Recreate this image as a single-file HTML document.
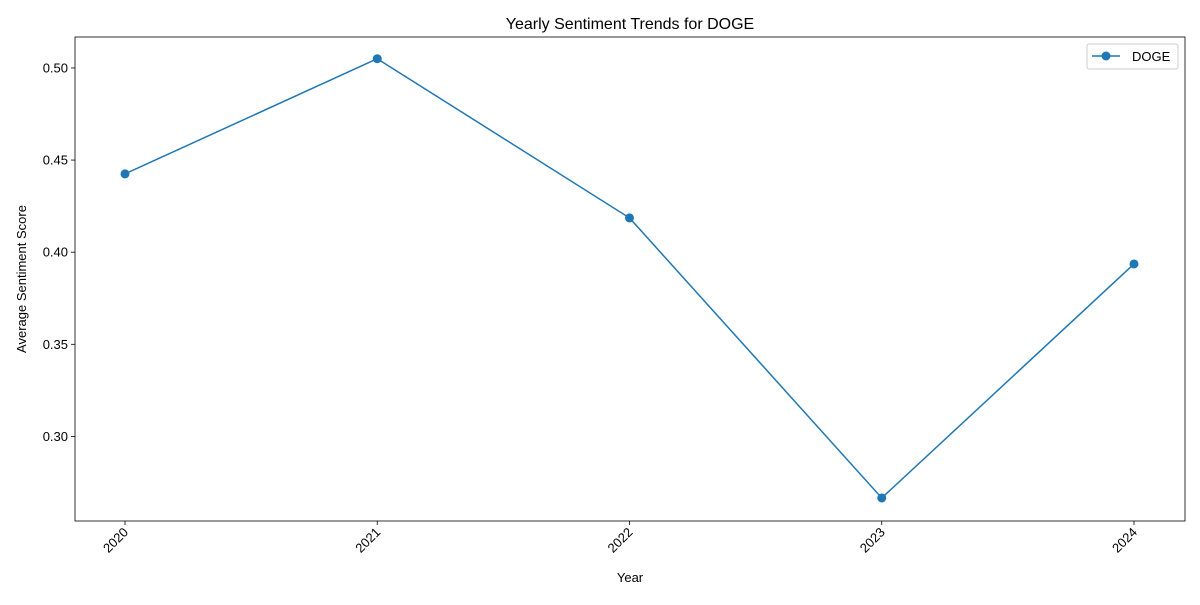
<!DOCTYPE html>
<html><head><meta charset="utf-8"><style>
body{margin:0;background:#fff;}
svg text{font-family:"Liberation Sans","DejaVu Sans",sans-serif;fill:#000;}
</style></head><body>
<svg id="chart" width="1200" height="600" xmlns="http://www.w3.org/2000/svg">
<rect width="1200" height="600" fill="#fff"/>
<text x="630" y="29" font-size="16" text-anchor="middle">Yearly Sentiment Trends for DOGE</text>
<g id="axes"></g>
<text x="630" y="582" font-size="13" text-anchor="middle">Year</text>
<text transform="translate(26,279) rotate(-90)" font-size="13" text-anchor="middle">Average Sentiment Score</text>
<g>
<rect x="1087" y="44" width="91" height="25" fill="#fff" stroke="#ccc" rx="2"/>
<line x1="1092" y1="56" x2="1120" y2="56" stroke="#1f77b4" stroke-width="1.5"/>
<circle cx="1106" cy="56" r="4.5" fill="#1f77b4"/>
<text x="1132" y="61" font-size="13">DOGE</text>
</g>
</svg>
<script>
const years = ["2020","2021","2022","2023","2024"];
const scores = [0.4425, 0.505, 0.4186, 0.2666, 0.3936];
const yTicks = [0.30, 0.35, 0.40, 0.45, 0.50];
const L=75,R=1185,T=37,B=521;
const yMin=0.2541,yMax=0.5168;
const x0=125,x1=1134;
function xs(i){return x0+(x1-x0)*i/(years.length-1);}
function ys(v){return B-(v-yMin)/(yMax-yMin)*(B-T);}
const NS="http://www.w3.org/2000/svg";
const g=document.getElementById('axes');
function mk(t,a){const e=document.createElementNS(NS,t);for(const k in a)e.setAttribute(k,a[k]);g.appendChild(e);return e;}
yTicks.forEach(v=>{
  const y=ys(v);
  const t=mk('line',{x1:L-4,x2:L,y1:y,y2:y,stroke:'#000','stroke-width':0.8});
  
  
  const tx=mk('text',{x:L-7,y:y+4.5,'font-size':13,'text-anchor':'end'});
  tx.textContent=v.toFixed(2);
  
  
});
years.forEach((yr,i)=>{
  const x=xs(i);
  const t=mk('line',{x1:x,x2:x,y1:B,y2:B+4,stroke:'#000','stroke-width':0.8});
  
  
  const tx=mk('text',{x:0,y:0,'font-size':13,'text-anchor':'end',transform:`translate(${x+4},${B+12}) rotate(-45)`});
  tx.textContent=yr;
  
  
});
const line=mk('polyline',{points:scores.map((v,i)=>xs(i)+','+ys(v)).join(' '),fill:'none',stroke:'#1f77b4','stroke-width':1.5});


scores.forEach((v,i)=>{
  const c=mk('circle',{cx:xs(i),cy:ys(v),r:4.5,fill:'#1f77b4'});
  
  
});
const fr=mk('rect',{x:L,y:T,width:R-L,height:B-T,fill:'none',stroke:'#000','stroke-width':0.8});


</script>
</body></html>
